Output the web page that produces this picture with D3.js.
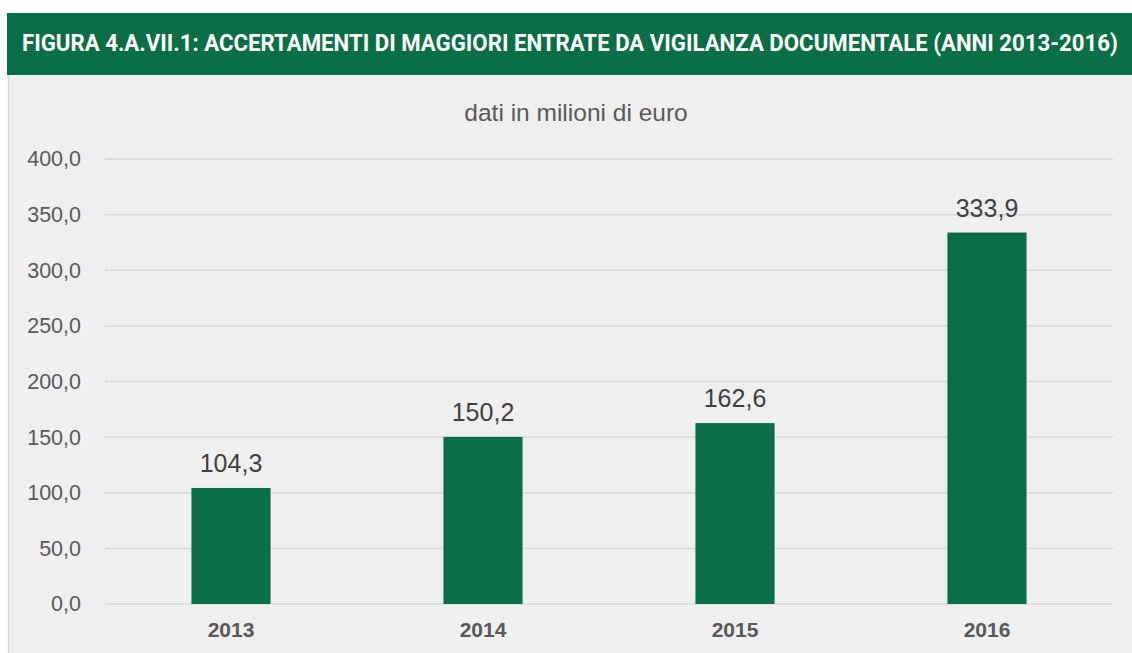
<!DOCTYPE html>
<html>
<head>
<meta charset="utf-8">
<script src="https://cdn.jsdelivr.net/npm/d3@7"></script>
<style>
  html, body { margin: 0; padding: 0; background: #ffffff; }
  svg { display: block; }
</style>
</head>
<body>
<svg id="chart" width="1132" height="653"></svg>
<script>
// Accertamenti di maggiori entrate da vigilanza documentale, milioni di euro
const years = ["2013", "2014", "2015", "2016"];
const values = [104.3, 150.2, 162.6, 333.9];
const yTicks = [0, 50, 100, 150, 200, 250, 300, 350, 400];

const titleText = "FIGURA 4.A.VII.1: ACCERTAMENTI DI MAGGIORI ENTRATE DA VIGILANZA DOCUMENTALE (ANNI 2013-2016)";
const subtitleText = "dati in milioni di euro";

const W = 1132, H = 653;
const green = "#0a6e46";
const bodyFont = "'Liberation Sans', Arial, sans-serif";
const fmt = v => v.toFixed(1).replace(".", ",");

const svg = d3.select("#chart");

// panel background
svg.append("rect").attr("x", 8).attr("y", 75).attr("width", W - 8).attr("height", H - 75)
  .attr("fill", "#efefef");
svg.append("line").attr("x1", 8.5).attr("x2", 8.5).attr("y1", 75).attr("y2", H)
  .attr("stroke", "#d9d9d9").attr("stroke-width", 1.5);

// title banner
svg.append("rect").attr("x", 7).attr("y", 13).attr("width", W - 7).attr("height", 62)
  .attr("fill", green);
const title = svg.append("text")
  .attr("x", 0).attr("y", 0)
  .attr("fill", "#ffffff")
  .attr("font-family", "'Roboto', 'Liberation Sans Narrow', sans-serif")
  .attr("font-weight", "bold")
  .attr("font-size", 23)
  .text(titleText);
// squeeze the title horizontally so it spans the banner
const titleWidth = 1096;
const natural = title.node().getComputedTextLength();
title.attr("transform", `translate(22,51) scale(${Math.min(1, titleWidth / natural)},1)`);

// subtitle
svg.append("text")
  .attr("x", 576).attr("y", 121)
  .attr("text-anchor", "middle")
  .attr("fill", "#595959")
  .attr("font-family", bodyFont)
  .attr("font-size", 24.5)
  .text(subtitleText);

const margin = { left: 105, right: 1113, top: 159, bottom: 604 };

const x = d3.scaleBand().domain(years).range([margin.left, margin.right]).paddingInner(0.686).paddingOuter(0.343);
const y = d3.scaleLinear().domain([0, 400]).range([margin.bottom, margin.top]);

// gridlines
svg.append("g").selectAll("line").data(yTicks).join("line")
  .attr("x1", margin.left).attr("x2", margin.right)
  .attr("y1", d => y(d)).attr("y2", d => y(d))
  .attr("stroke", "#d9d9d9").attr("stroke-width", 1.5);

// y axis labels
const yAxis = d3.axisLeft(y).tickValues(yTicks).tickFormat(fmt).tickSize(0).tickPadding(0);
const gy = svg.append("g").attr("transform", "translate(81,0)").call(yAxis);
gy.select(".domain").remove();
gy.selectAll("text")
  .attr("fill", "#595959")
  .attr("font-family", bodyFont)
  .attr("font-size", 21.5);

// bars
svg.append("g").selectAll("rect").data(values).join("rect")
  .attr("x", (d, i) => x(years[i]))
  .attr("width", x.bandwidth())
  .attr("y", d => y(d))
  .attr("height", d => y(0) - y(d))
  .attr("fill", green);

// value labels
svg.append("g").selectAll("text").data(values).join("text")
  .attr("x", (d, i) => x(years[i]) + x.bandwidth() / 2)
  .attr("y", d => y(d) - 16)
  .attr("text-anchor", "middle")
  .attr("fill", "#404040")
  .attr("font-family", bodyFont)
  .attr("font-size", 25)
  .text(fmt);

// x axis labels
const xAxis = d3.axisBottom(x).tickSize(0).tickPadding(0);
const gx = svg.append("g").attr("transform", `translate(0,${margin.bottom})`).call(xAxis);
gx.select(".domain").remove();
gx.selectAll("text")
  .attr("y", 33)
  .attr("dy", 0)
  .attr("fill", "#595959")
  .attr("font-family", bodyFont)
  .attr("font-weight", "bold")
  .attr("font-size", 21);
</script>
</body>
</html>
